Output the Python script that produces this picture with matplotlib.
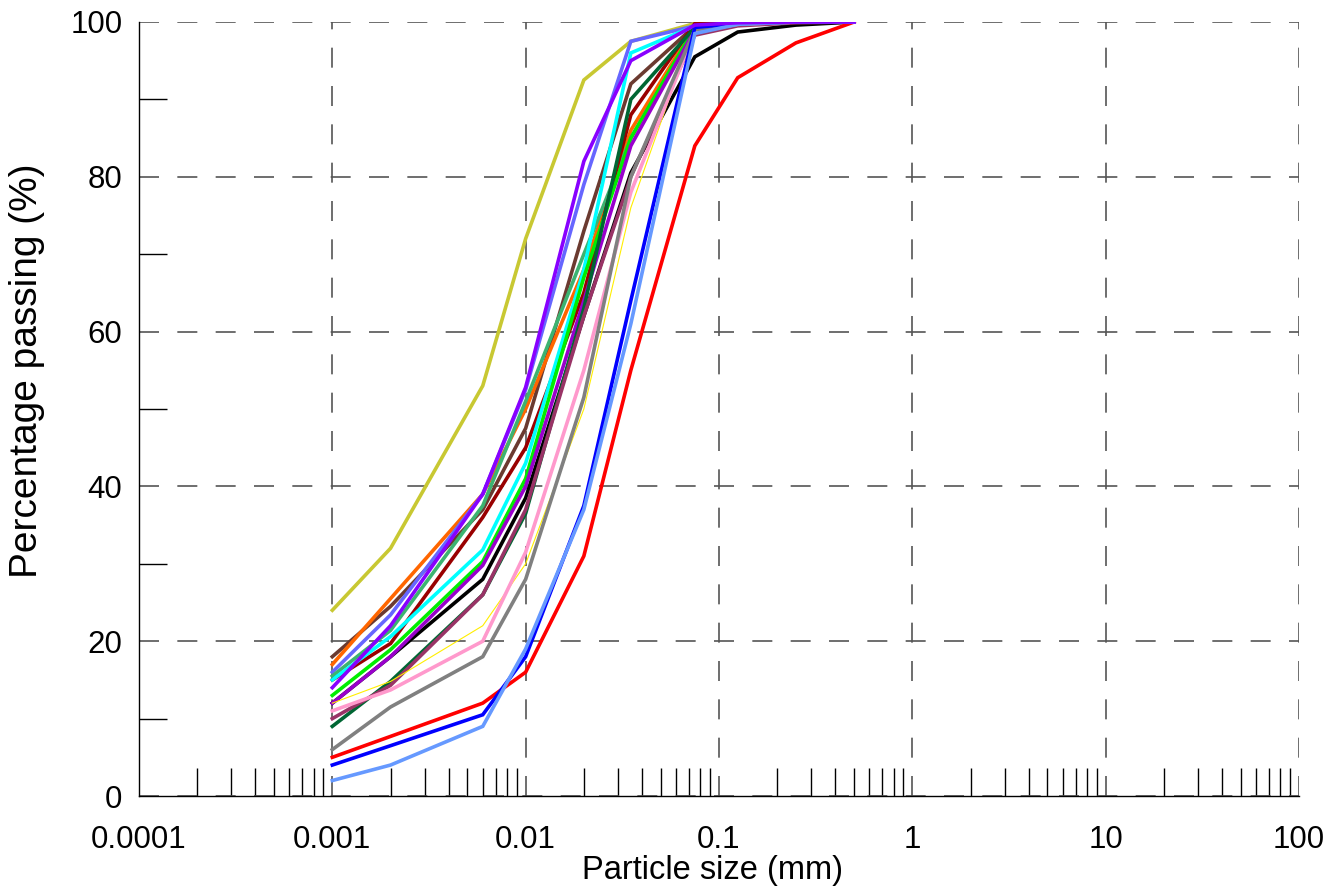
import numpy as np
import matplotlib
matplotlib.use("Agg")
from matplotlib import pyplot as plt
from matplotlib.ticker import FixedLocator, NullFormatter

plt.rcParams['font.family'] = ['Liberation Sans', 'DejaVu Sans']

# sieve / hydrometer sizes (mm)
sizes = [0.001, 0.002, 0.006, 0.01, 0.02, 0.035, 0.075, 0.125, 0.25, 0.5]

# percentage passing for each sample
olive = [24, 32, 53, 72, 92.5, 97.5, 99.8, 99.9, 100, 100]
brown = [18, 24.5, 37, 47.5, 73, 92, 99.5, 99.8, 100, 100]
orange = [17, 25.5, 39, 50, 68, 86, 99.5, 99.8, 100, 100]
slateblue = [16, 23.4, 39, 52.5, 79, 97.5, 99.5, 99.8, 100, 100]
seagreen = [15.5, 21.4, 37.5, 51, 70, 85, 99.3, 99.8, 100, 100]
darkred = [15, 19.7, 36, 45, 65, 88, 99.8, 99.9, 100, 100]
cyan = [15, 20.6, 31.8, 43, 68, 96, 99.5, 99.8, 100, 100]
lime = [13, 18.9, 30.3, 41, 67, 85, 99.3, 99.8, 100, 100]
black = [12, 18, 28, 38.5, 62, 80.5, 95.5, 98.7, 99.6, 100]
purple2 = [12, 18, 29.8, 40, 64, 84, 99, 99.7, 100, 100]
darkgreen = [9, 14.8, 26, 36.5, 63, 90, 99.3, 99.8, 100, 100]
mauve = [10, 14.3, 26, 37, 62, 80, 98.3, 99.5, 99.9, 100]
thinyellow = [12, 14.8, 22, 30, 50, 76, 99.5, 99.8, 100, 100]
pink = [11, 13.7, 20, 31.5, 55, 78, 98.8, 99.7, 100, 100]
gray = [6, 11.5, 18, 28, 51.5, 80, 99, 99.7, 100, 100]
red = [5, 7.7, 12, 16, 31, 55, 84, 92.8, 97.3, 100]
blue = [4, 6.5, 10.5, 18, 37.5, 64, 99.3, 99.8, 100, 100]
lightblue = [2, 4, 9, 19, 37, 61, 98.5, 99.7, 100, 100]
purple = [14, 22, 39, 52.8, 82, 95, 99.6, 99.9, 100, 100]

series = [
    (olive, '#c8c832', 2.6),
    (brown, '#6b3a30', 2.6),
    (orange, '#ff6600', 2.6),
    (slateblue, '#6666ff', 2.6),
    (seagreen, '#3cb371', 2.6),
    (darkred, '#990000', 2.6),
    (cyan, '#00ffff', 2.6),
    (lime, '#00ee00', 2.6),
    (black, '#000000', 2.6),
    (purple2, '#9900cc', 2.6),
    (darkgreen, '#006633', 2.6),
    (mauve, '#993366', 2.6),
    (thinyellow, '#ffee00', 0.8),
    (pink, '#ff99cc', 2.6),
    (gray, '#808080', 2.6),
    (red, '#ff0000', 2.6),
    (blue, '#0000ff', 2.6),
    (lightblue, '#6699ff', 2.6),
    (purple, '#8800ff', 2.6),
]

fig = plt.figure(figsize=(13.39, 8.90), dpi=100)
ax = fig.add_axes([0.1038, 0.1056, 0.8663, 0.8697])

for vals, col, lw in series:
    ax.plot(sizes, vals, color=col, linewidth=lw, solid_joinstyle='miter')

ax.set_xscale('log')
ax.set_xlim(0.0001, 100)
ax.set_ylim(0, 100)

ax.set_xticks([0.0001, 0.001, 0.01, 0.1, 1, 10, 100])
ax.set_xticklabels(['0.0001', '0.001', '0.01', '0.1', '1', '10', '100'])
ax.xaxis.set_minor_locator(FixedLocator(
    [m * 10.0 ** e for e in range(-4, 2) for m in range(2, 10)]))
ax.xaxis.set_minor_formatter(NullFormatter())
ax.set_yticks([0, 20, 40, 60, 80, 100])
ax.yaxis.set_minor_locator(FixedLocator([10, 30, 50, 70, 90]))

ax.tick_params(which='major', length=0, labelsize=22.5)
ax.tick_params(axis='x', which='major', pad=21)
ax.tick_params(axis='y', which='major', pad=12)
ax.tick_params(which='minor', direction='in', length=20, width=1, color='black')

ax.grid(True, which='major', color='#555555', linewidth=1.2,
        linestyle=(0, (12, 11)))
ax.set_axisbelow(True)

for s in ['top', 'right']:
    ax.spines[s].set_visible(False)
ax.spines['left'].set_linewidth(1)
ax.spines['bottom'].set_linewidth(1)

ax.set_xlabel('Particle size (mm)', fontsize=23.5)
ax.xaxis.set_label_coords(0.494, -0.076)
ax.set_ylabel('Percentage passing (%)', fontsize=28)
ax.yaxis.set_label_coords(-0.081, 0.549)

plt.savefig('out.png', dpi=100)
